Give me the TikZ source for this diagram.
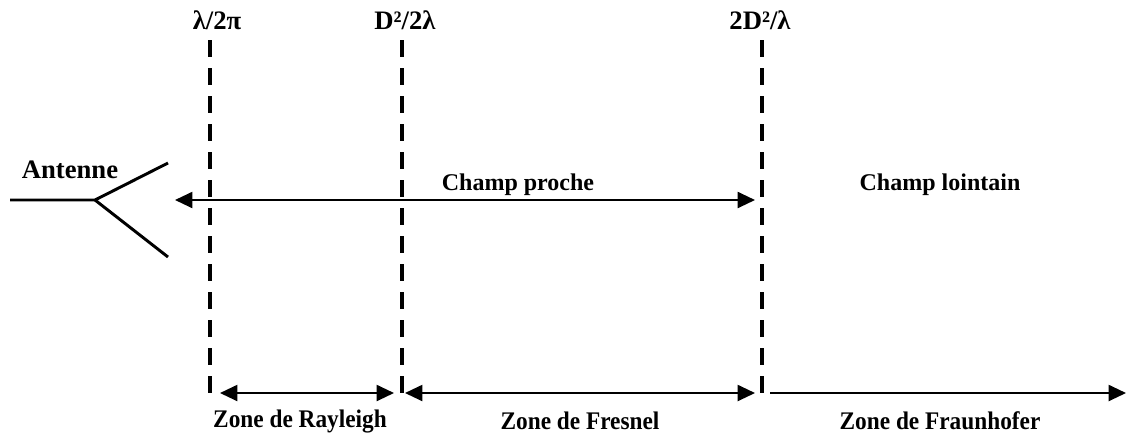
\documentclass[tikz,border=0pt]{standalone}
\usepackage{fontspec}
\setmainfont{Liberation Serif}
\newfontfamily\narrowfont[FakeStretch=0.92]{Liberation Serif}
\usetikzlibrary{arrows.meta}

\begin{document}
\begin{tikzpicture}[x=0.75pt, y=-0.75pt]
  \tikzstyle{boldtext} = [font=\fontsize{18}{20}\selectfont\bfseries, inner sep=0pt]
  \tikzstyle{toptext} = [font=\fontsize{20}{22}\selectfont\bfseries, inner sep=0pt]
  \tikzstyle{zonetext} = [font=\narrowfont\fontsize{19}{21}\selectfont\bfseries, inner sep=0pt]
  \tikzstyle{antline} = [line width=2.2pt]
  \tikzstyle{limit} = [line width=3pt, dash pattern=on 13pt off 8pt]
  \tikzstyle{dimline} = [line width=1.5pt, {Triangle[length=13pt, width=12pt]}-{Triangle[length=13pt, width=12pt]}]
  \useasboundingbox (0,0) rectangle (1126,437);
  % antenna
  \node[toptext] (antenne) at (70,170) {Antenne};
  \coordinate (feed) at (10,200);
  \coordinate (apex) at (95,200);
  \coordinate (armup) at (168,163);
  \coordinate (armdown) at (168,257);
  \draw[antline] (feed) -- (apex) -- (armup);
  \draw[antline] (apex) -- (armdown);
  % limits
  \node[toptext] (lim1) at (217,20) {λ/2π};
  \node[toptext] (lim2) at (405,20) {D²/2λ};
  \node[toptext] (lim3) at (760,20) {2D²/λ};
  \foreach \x/\n in {210/1, 402/2, 762/3} {
    \coordinate (top\n) at (\x,40);
    \coordinate (bot\n) at (\x,395);
    \draw[limit] (top\n) -- (bot\n);
  }
  % fields
  \node[boldtext] (proche) at (518,185) {Champ proche};
  \node[boldtext] (lointain) at (940,185) {Champ lointain};
  \coordinate (procheL) at (175,200);
  \coordinate (procheR) at (755,200);
  \draw[dimline] (procheL) -- (procheR);
  % zones
  \coordinate (ray1) at (220,393);
  \coordinate (ray2) at (394,393);
  \coordinate (fre1) at (405,393);
  \coordinate (fre2) at (755,393);
  \coordinate (fra1) at (770,393);
  \coordinate (fra2) at (1126,393);
  \draw[dimline] (ray1) -- (ray2);
  \draw[dimline] (fre1) -- (fre2);
  \draw[line width=1.5pt, -{Triangle[length=13pt, width=12pt]}] (fra1) -- (fra2);
  \node[zonetext] (rayleigh) at (300,421) {Zone de Rayleigh};
  \node[zonetext] (fresnel) at (580,421) {Zone de Fresnel};
  \node[zonetext] (fraunhofer) at (940,421) {Zone de Fraunhofer};
\end{tikzpicture}
\end{document}
